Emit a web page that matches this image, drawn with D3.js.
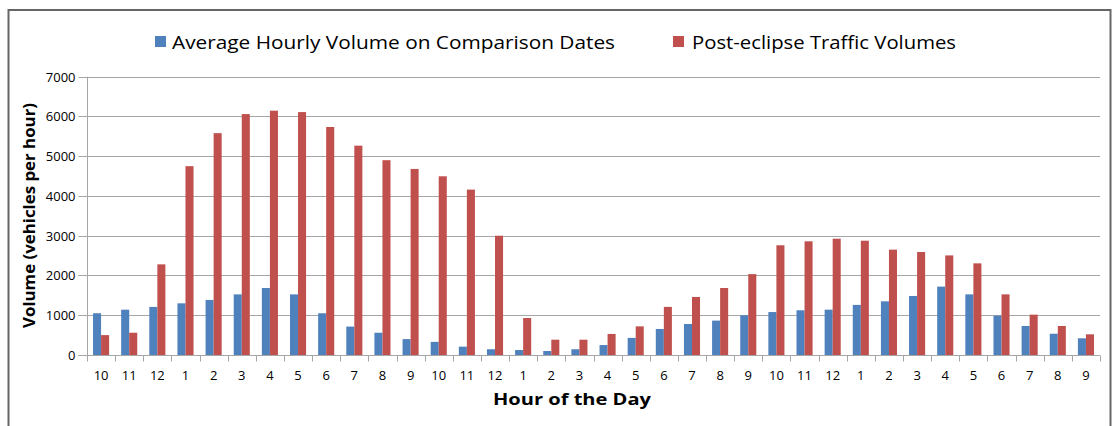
<!DOCTYPE html>
<html>
<head>
<meta charset="utf-8">
<script src="https://cdn.jsdelivr.net/npm/d3@7"></script>
<style>
  body { margin: 0; background: #fff; }
  svg { display: block; }
  text { font-family: "Open Sans", "Noto Sans", sans-serif; fill: #000; }
</style>
</head>
<body>
<svg id="chart" width="1114" height="426"></svg>
<script>
const hours = ["10","11","12","1","2","3","4","5","6","7","8","9","10","11","12","1","2","3","4","5","6","7","8","9","10","11","12","1","2","3","4","5","6","7","8","9"];
const seriesNames = ["Average Hourly Volume on Comparison Dates", "Post-eclipse Traffic Volumes"];
const comparison = [1050,1140,1210,1300,1385,1525,1685,1525,1050,715,560,400,330,210,145,125,100,145,250,430,655,780,865,1000,1080,1125,1140,1260,1350,1485,1720,1525,990,730,535,420];
const postEclipse = [500,560,2280,4750,5580,6060,6145,6110,5735,5265,4900,4680,4495,4160,3000,930,385,385,530,720,1210,1460,1685,2035,2760,2860,2925,2875,2650,2590,2505,2305,1525,1015,730,520];
const yTicks = [0,1000,2000,3000,4000,5000,6000,7000];
const colors = ["#4F81BD", "#C0504D"];

(function () {
const svg = d3.select("#chart");
const pLeft = 87, pRight = 1100, pTop = 76.7, pBottom = 355;

// frame
svg.append("rect").attr("x", 8.5).attr("y", 10).attr("width", 1102).attr("height", 430)
  .attr("fill", "none").attr("stroke", "#666").attr("stroke-width", 2);

const x = d3.scaleBand().domain(d3.range(hours.length)).range([pLeft, pRight]).paddingInner(0).paddingOuter(0);
const y = d3.scaleLinear().domain([0, 7000]).range([pBottom, pTop]);
const barW = x.bandwidth() / 3.5;
const inner = d3.scaleBand().domain([0, 1]).range([0.75 * barW, 2.75 * barW]);

// gridlines
svg.append("g").selectAll("line").data(yTicks.filter(d => d > 0)).join("line")
  .attr("x1", pLeft).attr("x2", pRight)
  .attr("y1", d => Math.round(y(d)) + 0.5).attr("y2", d => Math.round(y(d)) + 0.5)
  .attr("stroke", "#A6A6A6").attr("stroke-width", 1);

// y axis
const yAxis = svg.append("g").attr("transform", `translate(${pLeft + 0.5},0)`)
  .call(d3.axisLeft(y).tickValues(yTicks).tickSize(9).tickPadding(3).tickFormat(d3.format("d")));
yAxis.select(".domain").attr("stroke", "#A6A6A6").attr("d", `M0,${pBottom}V${pTop}`);
yAxis.selectAll(".tick line").attr("stroke", "#A6A6A6");
yAxis.selectAll(".tick text").attr("font-size", 13).attr("fill", "#222").attr("font-family", "Open Sans");
yAxis.selectAll(".tick").attr("transform", d => `translate(0,${Math.round(y(d)) + 0.5})`);

// bars
const series = [comparison, postEclipse];
series.forEach((vals, si) => {
  svg.append("g").selectAll("rect").data(vals).join("rect")
    .attr("x", (d, i) => x(i) + inner(si))
    .attr("width", inner.bandwidth())
    .attr("y", d => y(d))
    .attr("height", d => pBottom - y(d))
    .attr("fill", colors[si]);
});

// x axis
const xAxis = svg.append("g").attr("transform", `translate(0,${pBottom + 0.5})`);
xAxis.append("line").attr("x1", pLeft).attr("x2", pRight).attr("stroke", "#A6A6A6");
xAxis.selectAll("line.tk").data(d3.range(hours.length + 1)).join("line").attr("class", "tk")
  .attr("x1", i => Math.round(pLeft + i * x.step()) + 0.5).attr("x2", i => Math.round(pLeft + i * x.step()) + 0.5)
  .attr("y1", 0).attr("y2", 6).attr("stroke", "#A6A6A6");
xAxis.selectAll("text").data(hours).join("text")
  .attr("x", (d, i) => x(i) + x.bandwidth() / 2).attr("y", 24)
  .attr("text-anchor", "middle").attr("font-size", 13).attr("fill", "#222")
  .text(d => d);

// axis titles
svg.append("text").attr("x", 572).attr("y", 405).attr("text-anchor", "middle")
  .attr("font-size", 16).attr("font-weight", "bold")
  .attr("textLength", 158).attr("lengthAdjust", "spacingAndGlyphs")
  .text("Hour of the Day");
svg.append("text").attr("transform", "translate(35,215.5) rotate(-90)").attr("text-anchor", "middle")
  .attr("font-size", 16).attr("font-weight", "bold")
  .attr("textLength", 225).attr("lengthAdjust", "spacingAndGlyphs")
  .text("Volume (vehicles per hour)");

// legend
const legendItems = [
  { name: seriesNames[0], sx: 155, tx: 172, tw: 443 },
  { name: seriesNames[1], sx: 673, tx: 692, tw: 264 }
];
legendItems.forEach((it, i) => {
  svg.append("rect").attr("x", it.sx).attr("y", 36).attr("width", 11).attr("height", 11).attr("fill", colors[i]);
  svg.append("text").attr("x", it.tx).attr("y", 49).attr("font-size", 18)
    .attr("textLength", it.tw).attr("lengthAdjust", "spacingAndGlyphs")
    .text(it.name);
});
})();
</script>
</body>
</html>
